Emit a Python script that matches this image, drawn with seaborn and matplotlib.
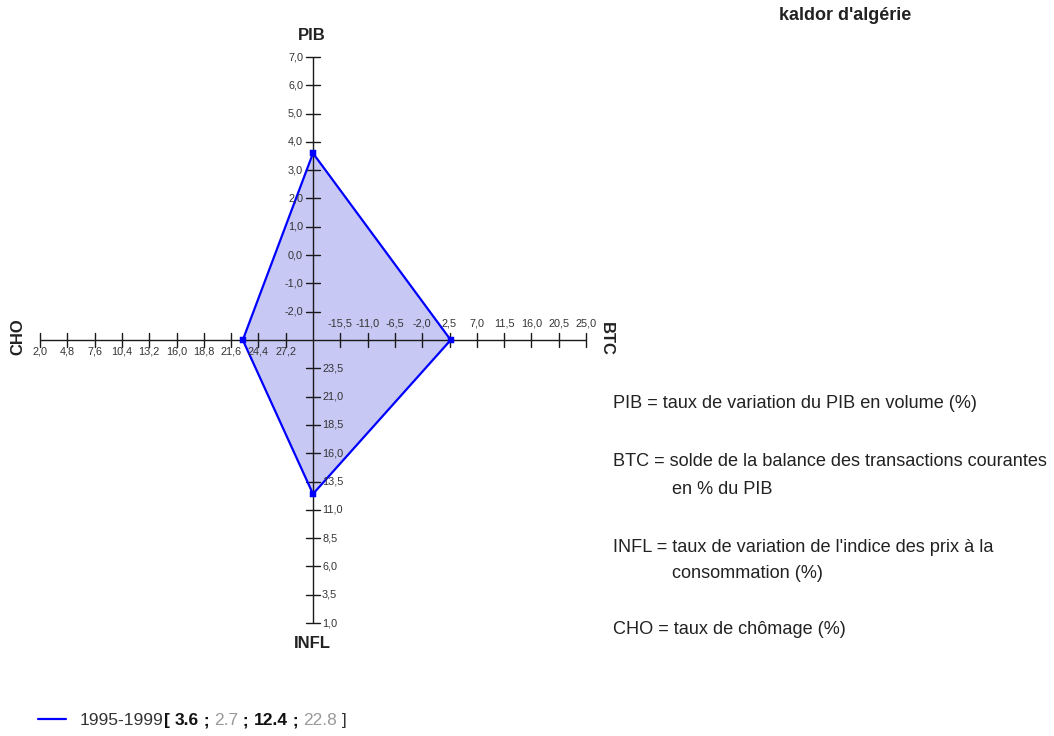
import matplotlib
matplotlib.use("Agg")
import matplotlib.pyplot as plt
from matplotlib.lines import Line2D
import seaborn as sns
import pandas as pd

# ---------------- data ----------------
axis_names = ["PIB", "BTC", "INFL", "CHO"]
values = [3.6, 2.7, 12.4, 22.8]
period = "1995-1999"
axis_centers = [-3.0, -20.0, 26.0, 30.0]
axis_ends = [7.0, 25.0, 1.0, 2.0]
pib_ticks = [-2.0, -1.0, 0.0, 1.0, 2.0, 3.0, 4.0, 5.0, 6.0, 7.0]
btc_ticks = [-15.5, -11.0, -6.5, -2.0, 2.5, 7.0, 11.5, 16.0, 20.5, 25.0]
infl_ticks = [23.5, 21.0, 18.5, 16.0, 13.5, 11.0, 8.5, 6.0, 3.5, 1.0]
cho_ticks = [27.2, 24.4, 21.6, 18.8, 16.0, 13.2, 10.4, 7.6, 4.8, 2.0]
title = "kaldor d'algérie"
definitions = [
    ["PIB = taux de variation du PIB en volume (%)"],
    ["BTC = solde de la balance des transactions courantes", "en % du PIB"],
    ["INFL = taux de variation de l'indice des prix à la", "consommation (%)"],
    ["CHO = taux de chômage (%)"],
]

# ---------------- style ----------------
sns.set_theme(style="white")
plt.rcParams["font.family"] = ["Liberation Sans", "DejaVu Sans"]
TXT = "#222222"

W, H = 1054, 736
fig = plt.figure(figsize=(W / 100, H / 100), dpi=100)
fig.patch.set_facecolor("white")

# chart geometry (pixels)
cx, cy = 313, 340
hx, vy = 27.3, 28.3   # pixels per tick step (horizontal / vertical)
ax = fig.add_axes([(cx - 11.5 * hx) / W, (H - (cy + 11.5 * vy)) / H,
                   23 * hx / W, 23 * vy / H])

directions = [(0, 1), (1, 0), (0, -1), (-1, 0)]
tick_sets = [pib_ticks, btc_ticks, infl_ticks, cho_ticks]


def scale(i, v):
    return (v - axis_centers[i]) / (axis_ends[i] - axis_centers[i]) * 10.0


def fmt(v):
    return f"{v:.1f}".replace(".", ",")


# polygon
px = [directions[i][0] * scale(i, v) for i, v in enumerate(values)]
py = [directions[i][1] * scale(i, v) for i, v in enumerate(values)]
df = pd.DataFrame({"x": px + px[:1], "y": py + py[:1]})
ax.fill(px, py, color="#c8c8f5", zorder=1, lw=0)
sns.lineplot(data=df, x="x", y="y", sort=False, estimator=None, color="#0000ff",
             lw=1.6, ax=ax, zorder=3)
sns.scatterplot(data=df.iloc[:4], x="x", y="y", marker="s", s=18, color="#0000ff",
                edgecolor="#0000ff", ax=ax, zorder=4)

AX_COL = "#1a1a1a"
tick_px = 7
for i, (dx, dy) in enumerate(directions):
    L = scale(i, axis_ends[i])
    ax.plot([0, dx * L], [0, dy * L], color=AX_COL, lw=1.0, zorder=2,
            solid_capstyle="butt")
    for t in tick_sets[i]:
        p = scale(i, t)
        x, y = dx * p, dy * p
        if dx == 0:
            ax.plot([x - tick_px / hx, x + tick_px / hx], [y, y], color=AX_COL, lw=1.0, zorder=2)
        else:
            ax.plot([x, x], [y - tick_px / vy, y + tick_px / vy], color=AX_COL, lw=1.0, zorder=2)
        kw = dict(xy=(x, y), textcoords="offset pixels", fontsize=7.8, color="#333333", zorder=4)
        if i == 0:
            ax.annotate(fmt(t), xytext=(-10, 0), ha="right", va="center", **kw)
        elif i == 1:
            ax.annotate(fmt(t), xytext=(0, 13), ha="center", va="baseline", **kw)
        elif i == 2:
            ax.annotate(fmt(t), xytext=(9, 0), ha="left", va="center", **kw)
        else:
            ax.annotate(fmt(t), xytext=(0, -7), ha="center", va="top", **kw)

ax.set_xlim(-11.5, 11.5)
ax.set_ylim(-11.5, 11.5)
ax.axis("off")

# axis titles
tkw = dict(fontsize=12, fontweight="bold", color=TXT)
fig.text(312 / W, 1 - 35 / H, "PIB", ha="center", va="center", **tkw)
fig.text(312 / W, 1 - 644 / H, "INFL", ha="center", va="center", **tkw)
fig.text(18 / W, 1 - 337 / H, "CHO", ha="center", va="center", rotation=90, **tkw)
fig.text(606 / W, 1 - 339 / H, "BTC", ha="center", va="center", rotation=270, **tkw)

# title
fig.text(845 / W, 1 - 15 / H, title, ha="center", va="center", fontsize=13,
         fontweight="bold", color=TXT)

# definitions
def_y = [[404], [462, 489], [547, 574], [630]]
for lines, ys in zip(definitions, def_y):
    for j, (ln, yy) in enumerate(zip(lines, ys)):
        fig.text((613 if j == 0 else 672) / W, 1 - yy / H, ln, ha="left", va="center",
                 fontsize=13.1, color=TXT)

# legend
fig.add_artist(Line2D([38 / W, 66 / W], [1 - 719 / H, 1 - 719 / H], color="#0000ff",
                      lw=1.6, transform=fig.transFigure))
GRAY = "#999999"
pieces = [
    (period, "normal", "#333333"),
    ("[ ", "bold", "#111111"),
    (f"{values[0]}", "bold", "#111111"),
    (" ; ", "bold", "#111111"),
    (f"{values[1]}", "normal", GRAY),
    (" ; ", "bold", "#111111"),
    (f"{values[2]}", "bold", "#111111"),
    (" ; ", "bold", "#111111"),
    (f"{values[3]}", "normal", GRAY),
    (" ]", "normal", "#333333"),
]
renderer = fig.canvas.get_renderer()
xpix = 80
for txt, wt, col in pieces:
    t = fig.text(xpix / W, 1 - 725 / H, txt, ha="left", va="baseline", fontsize=12.5,
                 fontweight=wt, color=col)
    bb = t.get_window_extent(renderer=renderer)
    xpix = bb.x1

fig.savefig("out.png", dpi=100, facecolor="white")
